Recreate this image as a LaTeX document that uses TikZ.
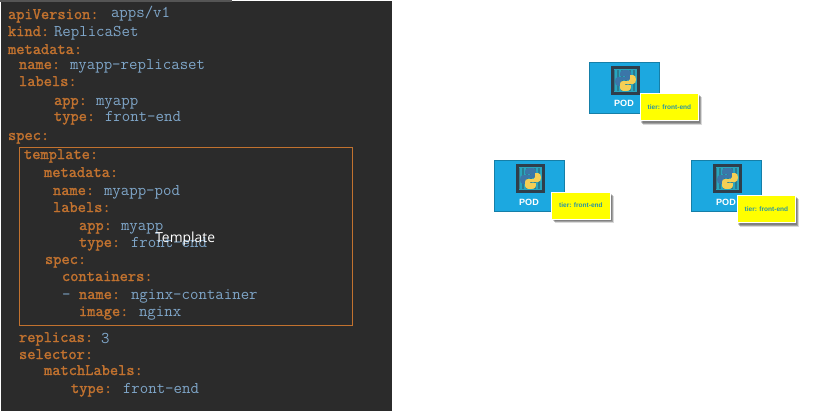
\documentclass[tikz,border=0pt]{standalone}
\usepackage{fontspec}
\setmainfont{Liberation Sans}
\newfontfamily\tplfont{Open Sans}
\newfontfamily\keyfont[FakeBold=1.6]{Latin Modern Mono}
\usetikzlibrary{shadows,positioning}
\definecolor{panelbg}{HTML}{2B2B2B}
\definecolor{stripgray}{HTML}{555555}
\definecolor{keyc}{HTML}{C2722F}
\definecolor{valc}{HTML}{7FA6C9}
\definecolor{podblue}{HTML}{1CA8E0}
\definecolor{podedge}{HTML}{157FA8}
\definecolor{icondark}{HTML}{2F3E4B}
\definecolor{barteal}{HTML}{28A5BE}
\definecolor{pyblue}{HTML}{3B76A8}
\definecolor{pyyellow}{HTML}{F5CF55}
\definecolor{tiertext}{HTML}{2A93A4}
\definecolor{tagyellow}{RGB}{255,255,0}
\tikzset{
  x=0.75pt,y=-0.75pt,
  yk/.style={anchor=base west,inner sep=0pt,outer sep=0pt,text=keyc,font=\keyfont\fontsize{12pt}{14pt}\selectfont},
  yv/.style={anchor=base west,inner sep=0pt,outer sep=0pt,text=valc,font=\ttfamily\fontsize{12.3pt}{14pt}\selectfont},
  podbox/.style={draw=podedge,fill=podblue,line width=0.6pt,minimum width=52.5pt,minimum height=38.2pt,inner sep=0pt,anchor=north west},
  podlabel/.style={text=white,font=\bfseries\fontsize{6.8pt}{8pt}\selectfont,inner sep=0pt},
  tiertag/.style={draw=white,line width=0.7pt,fill=tagyellow,minimum width=44.2pt,minimum height=20.5pt,inner sep=0pt,anchor=north west,
    text=tiertext,font=\bfseries\fontsize{4.9pt}{6pt}\selectfont,
    drop shadow={shadow xshift=1pt,shadow yshift=-1.4pt,fill=black,opacity=.2},
    drop shadow={shadow xshift=1.8pt,shadow yshift=-2.2pt,fill=black,opacity=.25},
    drop shadow={shadow xshift=2.5pt,shadow yshift=-2.9pt,fill=black,opacity=.15}},
}
% icon: #1 = x, #2 = y of upper-left corner, in reference pixels
\newcommand{\pyicon}[2]{%
  \begin{scope}[shift={(#1,#2)}]
    \fill[icondark] (0,0) rectangle (29,29);
    \fill[barteal!60!icondark] (3,3) rectangle (26,26);
    \foreach \bx in {5,9,13,17,21,25}{\draw[barteal,line width=0.8pt] (\bx,3) -- (\bx,26);}
    \draw[barteal,line width=0.9pt] (3,3.5) -- (26,3.5) (3,25.5) -- (26,25.5);
    \fill[pyblue] (14.5,4) .. controls (9,4) and (9,6) .. (9,10) -- (15,10) -- (15,11) -- (7,11) .. controls (3,11) and (3,20) .. (7,20) -- (10,20) -- (10,16) .. controls (10,14) and (12,14) .. (13,14) -- (17,14) .. controls (19,14) and (20,13) .. (20,11) -- (20,7) .. controls (20,5) and (18,4) .. (14.5,4) -- cycle;
    \fill[pyyellow] (14.5,25) .. controls (20,25) and (20,23) .. (20,19) -- (14,19) -- (14,18) -- (22,18) .. controls (26,18) and (26,9) .. (22,9) -- (19,9) -- (19,13) .. controls (19,15) and (17,15) .. (16,15) -- (12,15) .. controls (10,15) and (9,16) .. (9,18) -- (9,22) .. controls (9,24) and (11,25) .. (14.5,25) -- cycle;
  \end{scope}}
\begin{document}
\begin{tikzpicture}
\useasboundingbox (0,0) rectangle (823,411);
\fill[white] (0,0) rectangle (823,411);
\fill[panelbg] (1,1) rectangle (392,411);
\fill[stripgray] (0,0) rectangle (232,2);

\node[yk] (k1) at (8,19) {apiVersion:};
\node[yv] (v1) at (111,17) {apps/v1};
\node[yk] (k2) at (8,36) {kind:};
\node[yv] (v2) at (54,36) {ReplicaSet};
\node[yk] (k3) at (8,54) {metadata:};
\node[yk] (k4) at (19,69) {name:};
\node[yv] (v4) at (70,69) {myapp-replicaset};
\node[yk] (k5) at (19,86) {labels:};
\node[yk] (k6) at (54,105) {app:};
\node[yv] (v6) at (96,105) {myapp};
\node[yk] (k7) at (54,121) {type:};
\node[yv] (v7) at (105,121) {front-end};
\node[yk] (k8) at (8,140) {spec:};

\node[draw=keyc,line width=0.7pt,fill=none,minimum width=249.75pt,minimum height=133.5pt,inner sep=0pt,anchor=north west] (tpl) at (19,147) {};

\node[yk] (k9) at (24,159) {template:};
\node[yk] (k10) at (44,177) {metadata:};
\node[yk] (k11) at (53,195) {name:};
\node[yv] (v11) at (104,195) {myapp-pod};
\node[yk] (k12) at (53,212) {labels:};
\node[yk] (k13) at (79,230) {app:};
\node[yv] (v13) at (121,230) {myapp};
\node[yk] (k14) at (79,247) {type:};
\node[yv] (v14) at (131,247) {front-end};
\node[yk] (k15) at (45,264) {spec:};
\node[yk] (k16) at (62,281) {containers:};
\node[yv] (d17) at (62,299) {-};
\node[yk] (k17) at (79,299) {name:};
\node[yv] (v17) at (131,299) {nginx-container};
\node[yk] (k18) at (79,316) {image:};
\node[yv] (v18) at (139,316) {nginx};
\node[yk] (k19) at (19,342) {replicas:};
\node[yv] (v19) at (101,343) {3};
\node[yk] (k20) at (19,359) {selector:};
\node[yk] (k21) at (44,375) {matchLabels:};
\node[yk] (k22) at (71,393) {type:};
\node[yv] (v22) at (123,393) {front-end};

\node[anchor=base west,inner sep=0pt,text=white,font=\tplfont\fontsize{10.4pt}{12pt}\selectfont] (tpltext) at (155,242) {Template};

% pods
\node[podbox] (pod1) at (589,62) {};
\pyicon{611}{66}
\node[podlabel] (pod1l) at (624,103.5) {POD};
\node[tiertag] (tag1) at (639.5,93) {tier: front-end\hspace{3.5pt}};

\node[podbox] (pod2) at (494,160) {};
\pyicon{516}{164}
\node[podlabel] (pod2l) at (529,202) {POD};
\node[tiertag] (tag2) at (551,191.5) {tier: front-end\hspace{3.5pt}};

\node[podbox] (pod3) at (691,160) {};
\pyicon{713}{164}
\node[podlabel] (pod3l) at (726,202) {POD};
\node[tiertag] (tag3) at (736.5,195) {tier: front-end\hspace{3.5pt}};
\end{tikzpicture}
\end{document}
